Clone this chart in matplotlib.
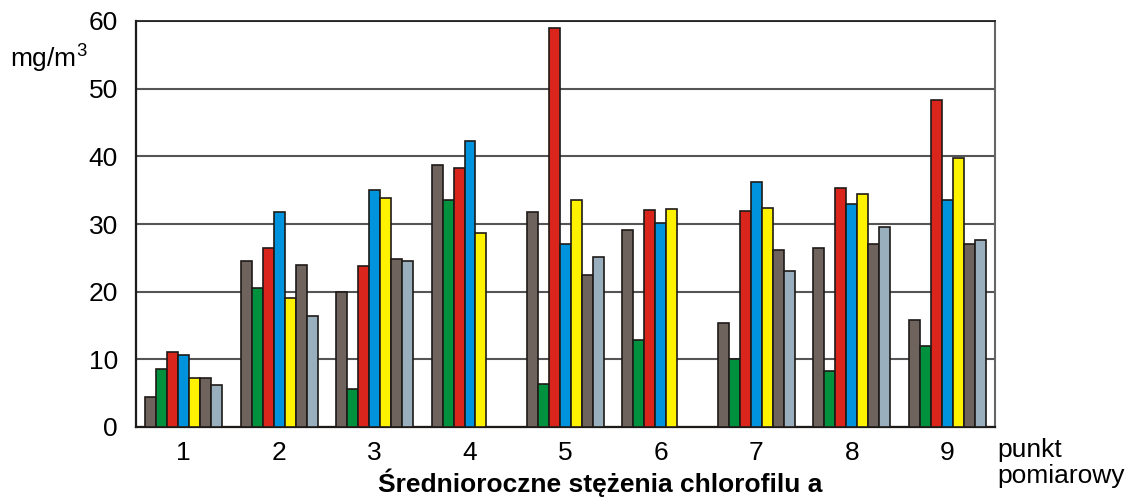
import numpy as np
import matplotlib
matplotlib.use('Agg')
import matplotlib.pyplot as plt

plt.rcParams['font.family'] = ['Liberation Sans', 'DejaVu Sans']
plt.rcParams['mathtext.default'] = 'regular'

punkty = ['1', '2', '3', '4', '5', '6', '7', '8', '9']

# 7 series per measuring point, nan = no bar
s1 = [4.5, 24.5, 20.0, 38.7, 31.7, 29.1, 15.3, 26.4, 15.8]
s2 = [8.6, 20.5, 5.6, 33.6, 6.3, 12.8, 10.1, 8.3, 11.9]
s3 = [11.1, 26.4, 23.8, 38.3, 58.9, 32.1, 31.9, 35.3, 48.3]
s4 = [10.7, 31.7, 35.0, 42.2, 27.0, 30.2, 36.2, 33.0, 33.6]
s5 = [7.3, 19.0, 33.9, 28.7, 33.6, 32.2, 32.3, 34.4, 39.8]
s6 = [7.3, 24.0, 24.8, np.nan, 22.4, np.nan, 26.2, 27.0, 27.0]
s7 = [6.2, 16.4, 24.5, np.nan, 25.1, np.nan, 23.0, 29.6, 27.6]

series = [s1, s2, s3, s4, s5, s6, s7]
colors = ['#6f635e', '#00913f', '#da251d', '#0093dd', '#fff200', '#6f635e', '#9aafbe']

fig = plt.figure(figsize=(11.31, 5.0), dpi=100)
ax = fig.add_axes([0.1202, 0.146, 0.7595, 0.812])

x = np.arange(len(punkty))
w = 0.115
for i, (vals, c) in enumerate(zip(series, colors)):
    ax.bar(x + (i - 3) * w, vals, width=w, color=c, edgecolor='#1e1a18',
           linewidth=1.2, zorder=3)

ax.set_xlim(-0.5, 8.5)
ax.set_ylim(0, 60)
ax.set_yticks(range(0, 61, 10))
ax.set_xticks(x)
ax.set_xticklabels(punkty)
ax.tick_params(length=0, labelsize=19, pad=13)
ax.tick_params(axis='x', pad=10)
ax.yaxis.grid(True, color='#555555', linewidth=1.5, zorder=0)

for sp in ['left', 'bottom']:
    ax.spines[sp].set_color('#1e1a18')
    ax.spines[sp].set_linewidth(1.6)
ax.spines['top'].set_color('#222222')
ax.spines['top'].set_linewidth(1.3)
ax.spines['right'].set_color('#666666')
ax.spines['right'].set_linewidth(1.5)

fig.text(0.009, 0.883, 'mg/m$^3$', fontsize=19, va='center', ha='left')
fig.text(0.882, 0.125, 'punkt\npomiarowy', fontsize=19, va='top', ha='left',
         linespacing=1.15)
fig.text(0.531, 0.006, 'Średnioroczne stężenia chlorofilu a', fontsize=19,
         fontweight='bold', ha='center', va='bottom')

fig.savefig('out.png', dpi=100)
